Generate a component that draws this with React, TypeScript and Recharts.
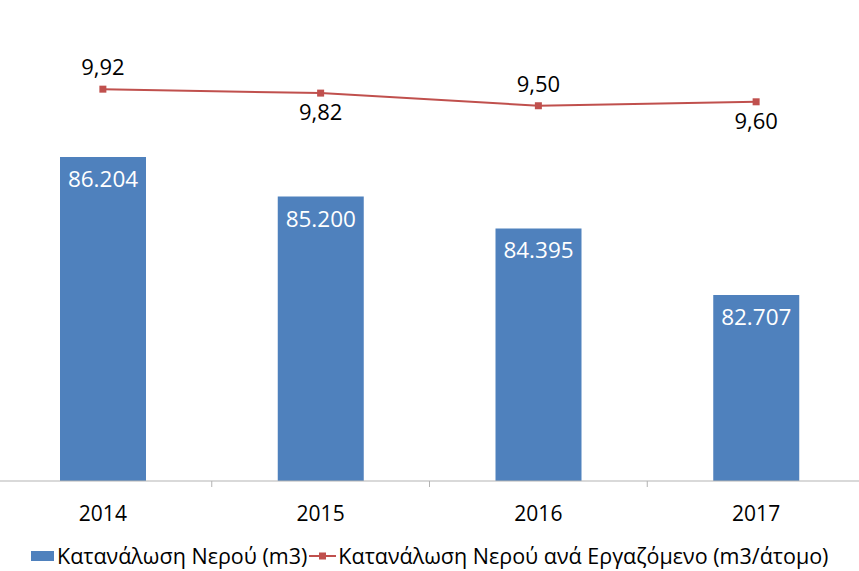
import {
  ComposedChart,
  Bar,
  Line,
  XAxis,
  YAxis,
  LabelList,
  Legend,
} from 'recharts'

const years = ['2014', '2015', '2016', '2017']
const consumption = [86204, 85200, 84395, 82707]
const perEmployee = [9.92, 9.82, 9.5, 9.6]

const barName = 'Κατανάλωση Νερού (m3)'
const lineName = 'Κατανάλωση Νερού ανά Εργαζόμενο (m3/άτομο)'

const chartData = years.map((y, i) => ({
  year: y,
  water: consumption[i],
  perEmp: perEmployee[i],
}))

const W = 871
const H = 571
const M = { top: 7, right: 0, bottom: 0, left: 0 }
const band = (W - M.left - M.right) / years.length
const font = '"Open Sans", sans-serif'
const barColor = '#4F81BD'
const lineColor = '#C0504D'

const fmtThousands = (v: number) => String(v).replace(/\B(?=(\d{3})+(?!\d))/g, '.')
const fmtDecimal = (v: number) => v.toFixed(2).replace('.', ',')

function YearTick(props: any) {
  const { x, y, payload } = props
  return (
    <g>
      <line x1={x + band / 2} x2={x + band / 2} y1={y - 8} y2={y - 2} stroke="#B3B3B3" />
      <text x={x} y={y + 32} textAnchor="middle" fontSize={21} fill="#000" fontFamily={font}>
        {payload.value}
      </text>
    </g>
  )
}

function LineLabel(props: any) {
  const { x, y, value, index } = props
  const above = index % 2 === 0
  return (
    <text
      x={x}
      y={above ? y - 14 : y + 27}
      textAnchor="middle"
      fontSize={22}
      fill="#000"
      fontFamily={font}
    >
      {fmtDecimal(value)}
    </text>
  )
}

function SquareDot(props: any) {
  const { cx, cy } = props
  return <rect x={cx - 3.5} y={cy - 3.5} width={7} height={7} fill={lineColor} />
}

function LegendContent() {
  return (
    <div
      style={{
        display: 'flex',
        alignItems: 'center',
        fontFamily: font,
        fontSize: 21.5,
        color: '#000',
        paddingLeft: 37,
        paddingTop: 8,
        whiteSpace: 'nowrap',
      }}
    >
      <span style={{ display: 'inline-block', width: 23, height: 10, background: barColor, marginRight: 3 }} />
      <span>{barName}</span>
      <svg width={27} height={12} style={{ margin: '0 2px' }}>
        <line x1={0} x2={27} y1={6} y2={6} stroke={lineColor} strokeWidth={2} />
        <rect x={10} y={2.5} width={7} height={7} fill={lineColor} />
      </svg>
      <span>{lineName}</span>
    </div>
  )
}

export default function App() {
  return (
    <div
      style={{
        position: 'absolute',
        left: 0,
        top: 0,
        width: 859,
        height: 571,
        overflow: 'hidden',
        background: '#fff',
      }}
    >
      <div style={{ marginLeft: -6 }}>
        <ComposedChart width={W} height={H} data={chartData} margin={M}>
          <XAxis
            dataKey="year"
            axisLine={{ stroke: '#B3B3B3' }}
            tickLine={false}
            tick={<YearTick />}
            height={52}
            interval={0}
          />
          <YAxis yAxisId="bar" hide domain={[78000, 90000]} />
          <YAxis yAxisId="line" hide orientation="right" domain={[0, 12]} />
          <Legend
            verticalAlign="bottom"
            align="left"
            height={38}
            content={<LegendContent />}
          />
          <Bar yAxisId="bar" dataKey="water" name={barName} fill={barColor} barSize={86} isAnimationActive={false}>
            <LabelList
              dataKey="water"
              position="insideTop"
              offset={14}
              fill="#fff"
              fontSize={22.5}
              fontFamily={font}
              formatter={(v: any) => fmtThousands(v)}
            />
          </Bar>
          <Line
            yAxisId="line"
            dataKey="perEmp"
            name={lineName}
            stroke={lineColor}
            strokeWidth={2}
            dot={<SquareDot />}
            activeDot={false}
            isAnimationActive={false}
          >
            <LabelList dataKey="perEmp" content={<LineLabel />} />
          </Line>
        </ComposedChart>
      </div>
    </div>
  )
}
